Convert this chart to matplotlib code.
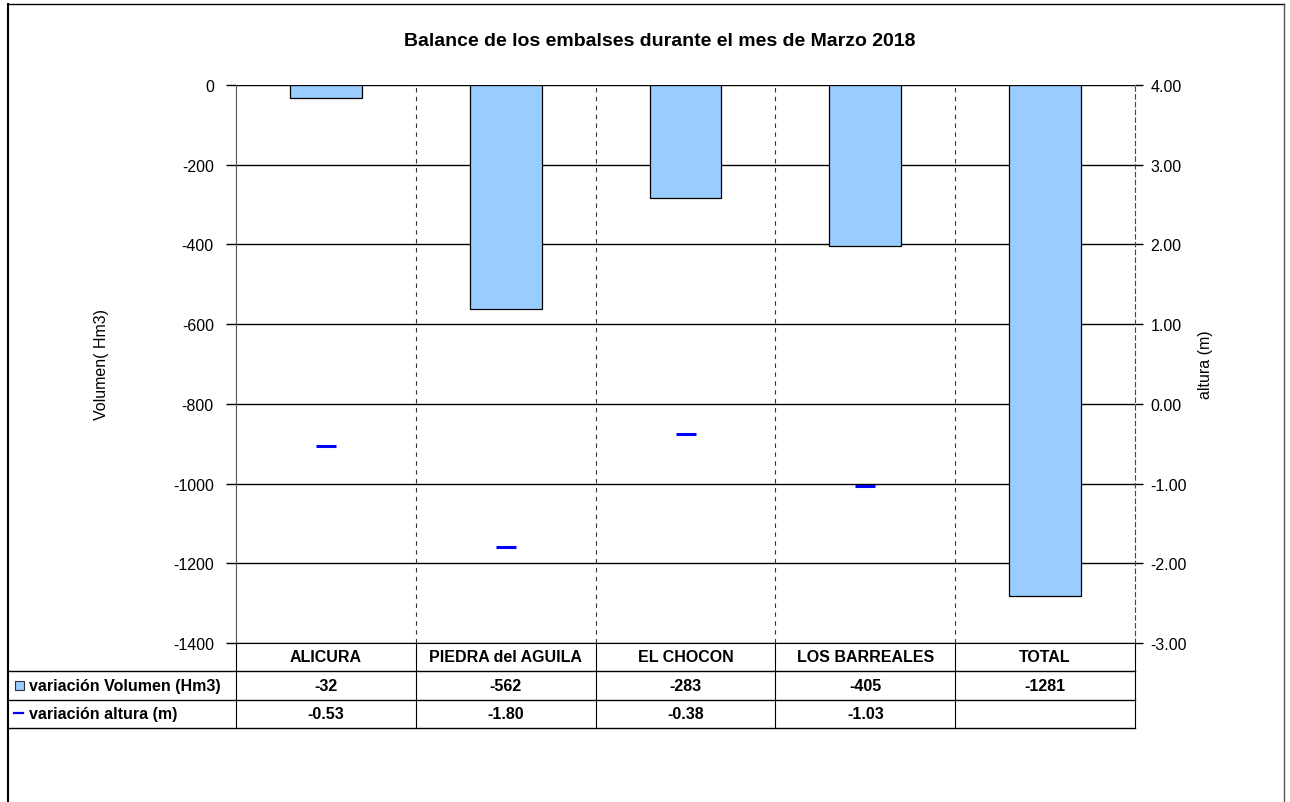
import matplotlib
matplotlib.use("Agg")
import matplotlib.pyplot as plt
from matplotlib.lines import Line2D
from matplotlib.patches import Rectangle
from matplotlib.transforms import blended_transform_factory
import numpy as np

plt.rcParams['font.family'] = ['Liberation Sans', 'DejaVu Sans']

title = "Balance de los embalses durante el mes de Marzo 2018"
categories = ["ALICURA", "PIEDRA del AGUILA", "EL CHOCON", "LOS BARREALES", "TOTAL"]
volumen = [-32, -562, -283, -405, -1281]
altura = [-0.53, -1.80, -0.38, -1.03, None]
volumen_labels = ["-32", "-562", "-283", "-405", "-1281"]
altura_labels = ["-0.53", "-1.80", "-0.38", "-1.03", ""]
row_labels = ["variación Volumen (Hm3)", "variación altura (m)"]
left_ticks = [0, -200, -400, -600, -800, -1000, -1200, -1400]
right_ticks = [4.0, 3.0, 2.0, 1.0, 0.0, -1.0, -2.0, -3.0]

W, H = 1290, 803
fig = plt.figure(figsize=(W / 100, H / 100), dpi=100)

def fx(px):
    return px / W

def fy(py):
    return 1 - py / H

L, R, T, B = 236, 1135, 86, 644
ax = fig.add_axes([fx(L), fy(B), fx(R) - fx(L), fy(T) - fy(B)])
ax2 = ax.twinx()

bar_color = "#99CCFF"
x = np.arange(len(categories))
ax.bar(x, volumen, width=0.4, color=bar_color, edgecolor="black", linewidth=0.9, zorder=3)
ax.set_xlim(-0.5, len(categories) - 0.5)
ax.set_ylim(-1400, 0)
ax.set_yticks(left_ticks)
ax.set_yticklabels([str(t) for t in left_ticks])
ax.set_xticks([])
ax.yaxis.grid(True, color="black", linewidth=1.0, zorder=0)
ax.set_axisbelow(True)
for xb in np.arange(0.5, len(categories) - 0.5, 1.0):
    ax.axvline(xb, color="#333333", linestyle=(0, (4, 4)), linewidth=0.8, zorder=1)
ax.tick_params(axis='y', direction='out', length=7, width=1, labelsize=11.5, pad=9)
ax.spines['top'].set_visible(False)
ax.spines['bottom'].set_color("black")
ax.spines['left'].set_color("#555555")
ax.spines['right'].set_visible(False)
ax.set_ylabel("Volumen( Hm3)", fontsize=11.5, labelpad=46)

ax2.set_ylim(-3.0, 4.0)
ax2.set_yticks(right_ticks)
ax2.set_yticklabels([f"{t:.2f}" for t in right_ticks])
ax2.tick_params(axis='y', direction='out', length=6, width=1, labelsize=11.5, pad=5)
xa = [xi for xi, a in zip(x, altura) if a is not None]
ya = [a for a in altura if a is not None]
ax2.plot(xa, ya, linestyle='none', marker='_', markersize=14, markeredgewidth=2.2, color="#0000FF", zorder=4)
for s in ['top', 'left', 'bottom']:
    ax2.spines[s].set_visible(False)
ax2.spines['right'].set_linestyle((0, (4, 3)))
ax2.spines['right'].set_color("#444444")
ax2.set_ylabel("altura (m)", fontsize=11.5, rotation=90, labelpad=8)

fig.suptitle(title, x=fx(660), y=fy(41), va='center', fontsize=14, fontweight='bold')

# Outer frame
fig.add_artist(Line2D([fx(8), fx(1284)], [fy(5), fy(5)], color="black", linewidth=1.0))
fig.add_artist(Line2D([fx(8), fx(8)], [fy(5), fy(803)], color="black", linewidth=1.5))
fig.add_artist(Line2D([fx(1284), fx(1284)], [fy(5), fy(803)], color="#555555", linewidth=1.0))

# Data table below the axes
tb = blended_transform_factory(ax.transData, fig.transFigure)
rows_y = [644, 672, 701, 729]
for yy in rows_y[1:]:
    fig.add_artist(Line2D([fx(8), fx(R)], [fy(yy), fy(yy)], color="black", linewidth=1.0))
for xb in np.arange(-0.5, len(categories), 1.0):
    fig.add_artist(Line2D([xb, xb], [fy(644), fy(729)], color="black", linewidth=0.8, transform=tb))

def mid(i):
    return fy((rows_y[i] + rows_y[i + 1]) / 2)

for i, c in enumerate(categories):
    fig.text(x[i], mid(0), c, transform=tb, ha='center', va='center', fontsize=11.5, fontweight='bold')
    fig.text(x[i], mid(1), volumen_labels[i], transform=tb, ha='center', va='center', fontsize=11.5, fontweight='bold')
    fig.text(x[i], mid(2), altura_labels[i], transform=tb, ha='center', va='center', fontsize=11.5, fontweight='bold')

# Row labels with legend keys
fig.add_artist(Rectangle((fx(15), mid(1) - 4.5 / H), 9 / W, 9 / H, facecolor=bar_color,
                         edgecolor="#333333", linewidth=0.8, transform=fig.transFigure))
fig.add_artist(Line2D([fx(14), fx(23)], [mid(2) + 1 / H, mid(2) + 1 / H], color="#0000FF", linewidth=1.6))
fig.text(fx(29), mid(1), row_labels[0], ha='left', va='center', fontsize=11.5, fontweight='bold')
fig.text(fx(29), mid(2), row_labels[1], ha='left', va='center', fontsize=11.5, fontweight='bold')

fig.savefig("out.png", dpi=100)
